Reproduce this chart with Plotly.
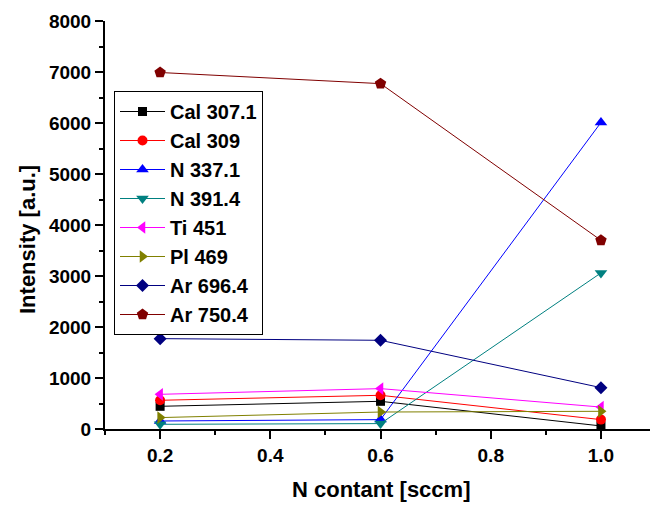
import plotly.graph_objects as go

# N flow settings (sccm)
n_flow = [0.2, 0.6, 1.0]

# Emission line intensities (a.u.)
series_names = ["Cal 307.1", "Cal 309", "N 337.1", "N 391.4",
                "Ti 451", "Pl 469", "Ar 696.4", "Ar 750.4"]
cal_3071 = [445, 543, 60]
cal_309 = [563, 661, 184]
n_3371 = [157, 184, 6010]
n_3914 = [92, 106, 3060]
ti_451 = [680, 792, 430]
pl_469 = [224, 333, 347]
ar_6964 = [1772, 1739, 811]
ar_7504 = [6990, 6772, 3700]

values = [cal_3071, cal_309, n_3371, n_3914, ti_451, pl_469, ar_6964, ar_7504]
colors = ["#000000", "#FF0000", "#0000FF", "#008080",
          "#FF00FF", "#808000", "#000080", "#800000"]
symbols = ["square", "circle", "triangle-up", "triangle-down",
           "triangle-left", "triangle-right", "diamond", "pentagon"]
sizes = [9, 10, 11, 11, 11, 11, 10, 12]

font_family = "Liberation Sans, Arial, sans-serif"

fig = go.Figure()
for name, ys, col, sym, sz in zip(series_names, values, colors, symbols, sizes):
    fig.add_trace(go.Scatter(
        x=n_flow, y=ys, name=name, mode="lines+markers",
        line=dict(color=col, width=1),
        marker=dict(symbol=sym, size=sz, color=col),
        cliponaxis=False,
    ))

axis_common = dict(
    showline=True, linecolor="black", linewidth=2,
    ticks="outside", ticklen=8, tickwidth=2, tickcolor="black",
    showgrid=False, zeroline=False, mirror=False,
    tickfont=dict(family=font_family, size=19, color="black", weight="bold"),
)

fig.update_xaxes(
    range=[0.1, 1.089], tick0=0.2, dtick=0.2, tickformat=".1f",
    minor=dict(dtick=0.1, ticklen=4, ticks="outside", tickcolor="black", tickwidth=2),
    **axis_common,
)
fig.update_yaxes(
    range=[0, 8000], tick0=0, dtick=1000,
    minor=dict(dtick=500, ticklen=4, ticks="outside", tickcolor="black", tickwidth=2),
    **axis_common,
)

# plot area in pixels
left, right, top, bottom = 105, 0, 21, 77
plot_w = 650 - left - right
plot_h = 506 - top - bottom

title_font = dict(family=font_family, size=22, color="black", weight="bold")

fig.update_layout(
    width=650, height=506,
    margin=dict(l=left, r=right, t=top, b=bottom),
    paper_bgcolor="white", plot_bgcolor="white",
    showlegend=True,
    legend=dict(
        x=(114 - left) / plot_w, y=(506 - bottom - 91) / plot_h,
        xanchor="left", yanchor="top",
        bordercolor="black", borderwidth=1, bgcolor="white",
        font=dict(family=font_family, size=20, color="black", weight="bold"),
        itemwidth=45, tracegroupgap=0,
    ),
    annotations=[
        dict(text="N contant [sccm]", x=0.6, xref="x",
             y=(506 - bottom - 490) / plot_h, yref="paper",
             showarrow=False, xanchor="center", yanchor="middle", font=title_font),
        dict(text="Intensity [a.u.]", textangle=-90,
             x=(27 - left) / plot_w, xref="paper",
             y=(506 - bottom - 240) / plot_h, yref="paper",
             showarrow=False, xanchor="center", yanchor="middle", font=title_font),
    ],
)

fig.write_html("out.html")
